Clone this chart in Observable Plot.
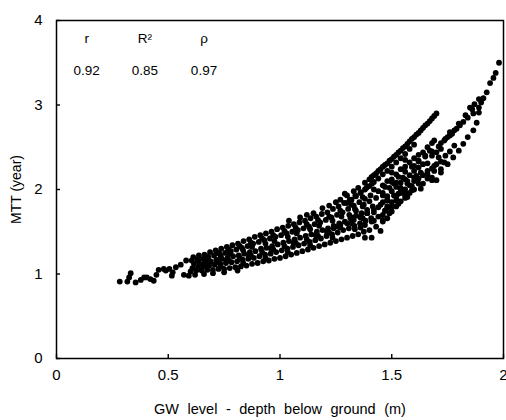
<!DOCTYPE html>
<html><head><meta charset="utf-8">
<script src="https://cdn.jsdelivr.net/npm/d3@7"></script>
<script src="https://cdn.jsdelivr.net/npm/@observablehq/plot@0.6"></script>
<style>
body{margin:0;background:#fff;}
g[aria-label="x-axis label"] text{word-spacing:4.5px;}
</style>
</head><body><div id="chart"></div>
<script>
// Tick values
const xTicks = [0, 0.5, 1, 1.5, 2];
const yTicks = [0, 1, 2, 3, 4];
// Statistics annotation
const statNames = ["r", "R²", "ρ"];
const statValues = ["0.92", "0.85", "0.97"];

// Scatter values [GW depth (m), MTT (year)], grouped by visible strand
const tail = [[0.283,0.91],[0.317,0.91],[0.325,0.96],[0.332,1.01],[0.354,0.90],[0.377,0.93],[0.392,0.96],[0.404,0.96],[0.42,0.94],[0.435,0.92],[0.447,0.99],[0.457,1.05],[0.48,1.06],[0.489,1.04],[0.505,1.06],[0.516,0.98],[0.52,1.02],[0.534,1.08],[0.556,1.11],[0.57,0.99],[0.58,1.16],[0.592,0.98]];
const underBand = [[0.62,0.99],[0.66,1.00],[0.70,1.01],[0.75,1.02],[0.81,1.04]];
const band1 = [[0.60,1.03],[0.625,1.04],[0.65,1.04],[0.675,1.05],[0.70,1.05],[0.725,1.06],[0.75,1.06],[0.775,1.07],[0.80,1.08],[0.825,1.09],[0.85,1.10],[0.875,1.12],[0.90,1.13],[0.925,1.15],[0.95,1.16],[0.975,1.18],[1.00,1.19],[1.025,1.21],[1.05,1.23],[1.075,1.25],[1.10,1.27],[1.125,1.29],[1.15,1.31],[1.175,1.33],[1.20,1.35],[1.225,1.37],[1.25,1.39],[1.275,1.41],[1.30,1.43],[1.325,1.45],[1.35,1.47],[1.375,1.50],[1.40,1.52]];
const band2 = [[0.608,1.07],[0.633,1.08],[0.658,1.09],[0.683,1.10],[0.708,1.11],[0.733,1.12],[0.758,1.13],[0.783,1.14],[0.808,1.15],[0.833,1.17],[0.858,1.18],[0.883,1.19],[0.908,1.21],[0.933,1.23],[0.958,1.24],[0.983,1.26],[1.008,1.28],[1.033,1.30],[1.058,1.32],[1.083,1.34],[1.108,1.36],[1.133,1.38],[1.158,1.40],[1.183,1.42],[1.208,1.45],[1.233,1.47],[1.258,1.49],[1.283,1.52],[1.308,1.54],[1.333,1.57],[1.358,1.60],[1.383,1.63],[1.408,1.66]];
const band3 = [[0.615,1.12],[0.64,1.12],[0.665,1.14],[0.69,1.15],[0.715,1.17],[0.74,1.18],[0.765,1.19],[0.79,1.21],[0.815,1.22],[0.84,1.24],[0.865,1.26],[0.89,1.27],[0.915,1.30],[0.94,1.31],[0.965,1.33],[0.99,1.35],[1.015,1.37],[1.04,1.39],[1.065,1.41],[1.09,1.43],[1.115,1.45],[1.14,1.47],[1.165,1.50],[1.19,1.52],[1.215,1.54],[1.24,1.57],[1.265,1.60],[1.29,1.62],[1.315,1.66],[1.34,1.69],[1.365,1.72],[1.39,1.76],[1.415,1.80]];
const band4 = [[0.605,1.16],[0.63,1.17],[0.655,1.18],[0.68,1.20],[0.705,1.22],[0.73,1.24],[0.755,1.25],[0.78,1.27],[0.805,1.29],[0.83,1.31],[0.855,1.33],[0.88,1.36],[0.905,1.38],[0.93,1.40],[0.955,1.42],[0.98,1.44],[1.005,1.46],[1.03,1.48],[1.055,1.50],[1.08,1.52],[1.105,1.54],[1.13,1.56],[1.155,1.59],[1.18,1.61],[1.205,1.64],[1.23,1.67],[1.255,1.70],[1.28,1.73],[1.305,1.77],[1.33,1.81],[1.355,1.85],[1.38,1.89],[1.405,1.93]];
const band5 = [[0.612,1.20],[0.637,1.22],[0.662,1.23],[0.687,1.26],[0.712,1.28],[0.737,1.30],[0.762,1.32],[0.787,1.34],[0.812,1.36],[0.837,1.39],[0.862,1.41],[0.887,1.44],[0.912,1.46],[0.937,1.48],[0.962,1.50],[0.987,1.53],[1.012,1.55],[1.037,1.57],[1.062,1.59],[1.087,1.61],[1.112,1.63],[1.137,1.66],[1.162,1.68],[1.187,1.71],[1.212,1.73],[1.237,1.77],[1.262,1.80],[1.287,1.84],[1.312,1.88],[1.337,1.93],[1.362,1.97],[1.387,2.02],[1.412,2.07]];
const bandExtra = [[0.67,1.11],[0.72,1.14],[0.77,1.16],[0.82,1.19],[0.87,1.22],[0.92,1.26],[0.97,1.29],[1.02,1.33],[1.07,1.37],[1.12,1.41],[1.17,1.45],[1.22,1.49],[1.27,1.55],[1.32,1.60],[1.37,1.66],[1.42,1.73],
  [0.67,1.21],[0.72,1.25],[0.77,1.29],[0.82,1.33],[0.87,1.37],[0.92,1.42],[0.97,1.46],[1.02,1.51],[1.07,1.55],[1.12,1.59],[1.17,1.64],[1.22,1.68],[1.27,1.75],[1.32,1.82],[1.37,1.91],[1.42,2.00],
  [0.675,1.18],[0.775,1.24],[0.875,1.32],[0.975,1.39],[1.075,1.48],[1.175,1.57],[1.275,1.68],[1.375,1.82]];
const bandExtra2 = [[0.635,1.06],[0.735,1.09],[0.835,1.13],[0.935,1.19],[1.035,1.26],[1.135,1.34],[1.235,1.43],[1.335,1.53],
  [0.635,1.15],[0.735,1.21],[0.835,1.28],[0.935,1.36],[1.035,1.44],[1.135,1.53],[1.235,1.63],[1.335,1.77],
  [0.66,1.12],[0.76,1.16],[0.86,1.22],[0.96,1.30],[1.06,1.37],[1.16,1.46],[1.26,1.56],[1.36,1.67]];
const bandFill = [[1.21,1.50],[1.24,1.54],[1.27,1.58],[1.30,1.60],[1.31,1.70],[1.33,1.64],[1.34,1.75],[1.36,1.68],[1.37,1.80],[1.38,1.58],[1.39,1.72],[1.40,1.86],[1.41,1.62],[1.42,1.76],[1.43,1.90],[1.44,1.68],[1.45,1.82],[1.46,1.96],[1.47,1.75],[1.48,1.88],[1.49,2.02],[1.50,1.80],[1.51,1.93],[1.52,2.08],[1.53,1.86],[1.54,2.00],[1.56,1.95],[1.57,2.10],[1.59,2.04],[1.61,2.16],[1.43,1.56],[1.46,1.64],[1.49,1.72]];
const upperStrand = [[1.04,1.63],[1.09,1.67],[1.12,1.70],[1.15,1.72],[1.19,1.78],[1.22,1.81],[1.25,1.85],[1.27,1.88],[1.29,1.95],[1.30,1.93],[1.33,1.98],[1.35,2.02],[1.38,2.08],[1.40,2.12],[1.41,2.15],[1.42,2.17],[1.43,2.19],[1.44,2.22],[1.45,2.24],[1.46,2.27],[1.47,2.29],[1.48,2.31],[1.49,2.34],[1.50,2.36],[1.51,2.39],[1.52,2.41],[1.53,2.44],[1.54,2.46],[1.55,2.49],[1.56,2.51],[1.57,2.54],[1.58,2.57],[1.59,2.60],[1.60,2.62],[1.61,2.65],[1.62,2.67],[1.63,2.70],[1.64,2.73],[1.65,2.76],[1.66,2.78],[1.67,2.81],[1.68,2.84],[1.69,2.87],[1.70,2.90]];
const upperInner = [[1.30,1.84],[1.32,1.88],[1.34,1.92],[1.36,1.96],[1.38,2.00],[1.40,2.04],[1.42,2.09],[1.44,2.13],[1.46,2.18],[1.48,2.22],[1.50,2.27],[1.52,2.32],[1.54,2.37],[1.56,2.42],[1.58,2.48],[1.60,2.53]];
const rightOuter = [[1.44,1.98],[1.47,2.03],[1.50,2.09],[1.53,2.15],[1.56,2.21],[1.59,2.27],[1.62,2.33],[1.65,2.39],[1.68,2.45],[1.71,2.51],[1.735,2.58],[1.75,2.62],[1.77,2.66],[1.79,2.72],[1.805,2.76],[1.82,2.80],[1.84,2.85],[1.865,2.90],[1.89,2.97],[1.90,3.03],[1.91,3.08],[1.925,3.15],[1.94,3.26],[1.955,3.32],[1.965,3.38],[1.98,3.50]];
const rightLower = [[1.48,1.80],[1.52,1.87],[1.56,1.93],[1.60,2.00],[1.64,2.07],[1.68,2.14],[1.72,2.24],[1.75,2.30],[1.775,2.38],[1.80,2.46],[1.82,2.54],[1.84,2.62],[1.865,2.70],[1.88,2.79],[1.89,2.91]];
const rightMiddle = [[1.76,2.68],[1.80,2.78],[1.83,2.88],[1.85,2.97],[1.86,2.95],[1.87,3.01],[1.89,3.07]];
const cloud = [[1.69,2.58],[1.72,2.48],[1.67,2.46],[1.65,2.40],[1.71,2.38],[1.62,2.34],[1.735,2.32],[1.60,2.28],[1.69,2.28],[1.66,2.22],[1.63,2.20],[1.72,2.20],[1.60,2.14],[1.66,2.13],[1.70,2.11],[1.62,2.07],[1.57,2.07],[1.54,2.02],[1.42,1.63],[1.47,1.75],[1.53,1.83],[1.57,1.91],[1.63,2.01],[1.59,1.99],[1.68,2.11],[1.69,2.22],[1.66,2.31],[1.60,2.22],[1.55,2.14],[1.51,2.07],[1.53,1.95],[1.48,1.87],[1.44,1.79],[1.39,1.72],[1.32,1.67],[1.36,1.55],[1.45,1.51],[1.41,1.43],[1.38,1.43]];
const cloud2 = [[1.46,1.62],[1.46,1.70],[1.46,1.85],[1.46,1.93],[1.46,2.05],[1.48,1.66],[1.48,1.78],[1.48,1.92],[1.48,2.10],[1.50,1.74],[1.50,1.85],[1.50,1.98],[1.50,2.12],[1.50,2.20],[1.52,1.80],[1.52,1.91],[1.52,2.03],[1.52,2.18],[1.54,1.86],[1.54,1.96],[1.54,2.08],[1.54,2.24],[1.56,1.90],[1.56,2.00],[1.56,2.12],[1.56,2.27],[1.56,2.35],[1.58,1.96],[1.58,2.05],[1.58,2.17],[1.58,2.32],[1.60,2.10],[1.60,2.37],[1.62,2.13],[1.62,2.26],[1.62,2.41],[1.64,2.17],[1.64,2.30],[1.64,2.44],[1.66,2.18],[1.66,2.50],[1.68,2.25],[1.68,2.40],[1.68,2.55],[1.70,2.30],[1.70,2.44],[1.72,2.33],[1.72,2.55],[1.74,2.40],[1.74,2.60],[1.76,2.45],[1.76,2.64],[1.78,2.52],[1.78,2.70]];

const points = [tail, underBand, band1, band2, band3, band4, band5, bandExtra, bandExtra2, bandFill, upperStrand, upperInner, rightOuter, rightLower, rightMiddle, cloud, cloud2]
  .flat().map(([x, y]) => ({x, y}));
const stats = statNames.map((name, i) => ({name, value: statValues[i], x: [0.135, 0.395, 0.66][i]}));

const W = 506, H = 420, mt = 20, mr = 3, mb = 62, ml = 56;
const tickLen = 4;

const chart = Plot.plot({
  width: W,
  height: H,
  marginTop: mt,
  marginRight: mr,
  marginBottom: mb,
  marginLeft: ml,
  style: {fontFamily: "'Liberation Sans', Arial, sans-serif", fontSize: "15px", background: "white", color: "black"},
  x: {domain: [0, 2]},
  y: {domain: [0, 4]},
  marks: [
    Plot.axisX({ticks: xTicks, tickSize: 0, tickPadding: 11, tickFormat: d => String(d), label: null, fontSize: 15}),
    Plot.axisX({ticks: [], tickSize: 0, label: "GW level - depth below ground (m)", labelAnchor: "center", labelArrow: "none", labelOffset: 55, fontSize: 14.5}),
    Plot.axisY({ticks: yTicks, tickSize: 0, tickPadding: 14, tickFormat: d => String(d), label: null, fontSize: 15}),
    Plot.axisY({ticks: [], tickSize: 0, label: "MTT (year)", labelAnchor: "center", labelArrow: "none", labelOffset: 45, fontSize: 14}),
    Plot.axisX({ticks: xTicks, tickSize: tickLen, dy: -tickLen, tickFormat: () => "", label: null, strokeWidth: 1.4}),
    Plot.axisY({ticks: yTicks, tickSize: tickLen, dx: tickLen, tickFormat: () => "", label: null, strokeWidth: 1.4}),
    Plot.dot(points, {x: "x", y: "y", r: 2.9, fill: "black", stroke: "none"}),
    Plot.text(stats, {x: "x", y: 3.78, text: "name", fontSize: 13.5}),
    Plot.text(stats, {x: "x", y: 3.41, text: "value", fontSize: 13.5}),
    Plot.frame({stroke: "black", strokeWidth: 1.5})
  ]
});
document.getElementById("chart").appendChild(chart);
</script>
</body></html>
